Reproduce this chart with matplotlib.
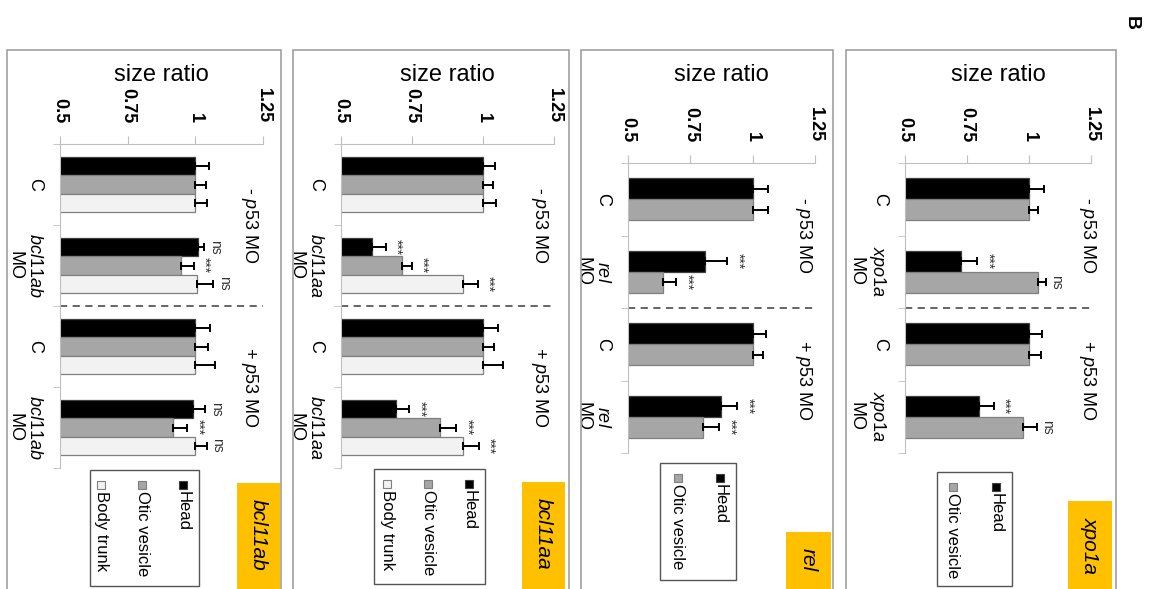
import matplotlib
matplotlib.use("Agg")
import matplotlib.pyplot as plt
from matplotlib.patches import Rectangle
import numpy as np

plt.rcParams['font.family'] = ['Liberation Sans', 'DejaVu Sans']
plt.rcParams['mathtext.fontset'] = 'custom'
plt.rcParams['mathtext.rm'] = 'Liberation Sans'
plt.rcParams['mathtext.it'] = 'Liberation Sans:italic'

# ---- data ----
series_names = ["Head", "Otic vesicle", "Body trunk"]
groups = ["- $\\it{p53}$ MO", "+ $\\it{p53}$ MO"]
ticks = [0.5, 0.75, 1, 1.25]
tick_labels = ["0.5", "0.75", "1", "1.25"]

xpo1a_head = [1.0, 0.724, 1.0, 0.80]
xpo1a_head_err = [0.06, 0.067, 0.051, 0.059]
xpo1a_otic = [1.0, 1.038, 1.0, 0.977]
xpo1a_otic_err = [0.038, 0.03, 0.047, 0.054]
xpo1a_sig = [["", "***", "", "***"], ["", "ns", "", "ns"]]

rel_head = [1.0, 0.808, 1.0, 0.871]
rel_head_err = [0.063, 0.09, 0.054, 0.068]
rel_otic = [1.0, 0.64, 1.0, 0.80]
rel_otic_err = [0.063, 0.054, 0.043, 0.066]
rel_sig = [["", "***", "", "***"], ["", "***", "", "***"]]

bcl11aa_head = [1.0, 0.608, 1.0, 0.695]
bcl11aa_head_err = [0.043, 0.05, 0.052, 0.045]
bcl11aa_otic = [1.0, 0.716, 1.0, 0.85]
bcl11aa_otic_err = [0.035, 0.034, 0.039, 0.056]
bcl11aa_body = [1.0, 0.928, 1.0, 0.931]
bcl11aa_body_err = [0.045, 0.053, 0.069, 0.055]
bcl11aa_sig = [["", "***", "", "***"], ["", "***", "", "***"], ["", "***", "", "***"]]

bcl11ab_head = [1.0, 1.01, 1.0, 0.991]
bcl11ab_head_err = [0.049, 0.023, 0.053, 0.046]
bcl11ab_otic = [1.0, 0.947, 1.0, 0.917]
bcl11ab_otic_err = [0.039, 0.047, 0.047, 0.054]
bcl11ab_body = [1.0, 1.007, 1.0, 1.0]
bcl11ab_body_err = [0.043, 0.06, 0.074, 0.043]
bcl11ab_sig = [["", "ns", "", "ns"], ["", "***", "", "***"], ["", "ns", "", "ns"]]

colors = ["#000000", "#a6a6a6", "#f2f2f2"]
edges = ["#404040", "#7f7f7f", "#7f7f7f"]

W, H = 1149, 589
fig = plt.figure(figsize=(W / 100, H / 100), dpi=100)


def fx(x):
    return x / W


def fy(y):
    return 1 - y / H


def fig_rect(x0, y0, x1, y1, **kw):
    fig.add_artist(Rectangle((fx(x0), fy(y1)), (x1 - x0) / W, (y1 - y0) / H,
                             transform=fig.transFigure, **kw))


def panel(gene, vals, errs, sig, axbox, frame, group_x, legbox, leg_cols, ybox):
    l, r, t, b = axbox
    # panel frame
    fig_rect(frame[0], 50, frame[1], 640, fill=False, ec="#a0a0a0", lw=1.2)

    ax = fig.add_axes([fx(l), fy(b), (r - l) / W, (b - t) / H])
    n = len(vals)
    cats = ["C", "$\\it{" + gene + "}$\nMO", "C", "$\\it{" + gene + "}$\nMO"]
    pos = np.arange(len(cats))
    h = 0.29 if n == 2 else 0.226
    for i in range(n):
        y = pos + (i - (n - 1) / 2) * h
        ax.barh(y, vals[i], height=h, color=colors[i], edgecolor=edges[i], lw=0.9, zorder=2)
        ax.errorbar(vals[i], y, xerr=[np.zeros(len(y)), errs[i]], fmt="none",
                    ecolor="black", elinewidth=1.4, capsize=3, capthick=1.4, zorder=3)
        for k in range(len(y)):
            if sig[i][k]:
                ax.annotate(sig[i][k], xy=(vals[i][k] + errs[i][k], y[k]), xytext=(2.5, 0),
                            textcoords="offset points", rotation=270, ha="left", va="center",
                            fontsize=10, color="#333333")

    ax.set_xlim(0.5, 1.25)
    ax.set_ylim(len(cats) - 0.5, -0.5)
    ax.axhline(1.5, color="#595959", ls=(0, (4, 3)), lw=1.3)

    ax.xaxis.tick_top()
    ax.set_xticks(ticks, labels=tick_labels)
    ax.tick_params(axis="x", length=6, color="#bfbfbf", labelrotation=270, labelsize=13, pad=9)
    for lab in ax.get_xticklabels():
        lab.set_fontweight("bold")
    ax.set_yticks(pos, labels=cats)
    ax.set_yticks(np.arange(-0.5, len(cats), 1), minor=True)
    ax.tick_params(axis="y", which="major", length=0, labelrotation=270, labelsize=13, pad=12)
    ax.tick_params(axis="y", which="minor", length=5, color="#bfbfbf")
    for lab in ax.get_yticklabels():
        lab.set_va("center")
        lab.set_multialignment("center")
    for s in ["right", "bottom"]:
        ax.spines[s].set_visible(False)
    for s in ["top", "left"]:
        ax.spines[s].set_color("#bfbfbf")
    ax.set_facecolor("none")

    for g, gy in zip(groups, [0.5, 2.5]):
        ax.text(group_x, gy, g, rotation=270, ha="center", va="center", fontsize=13,
                transform=ax.get_yaxis_transform())

    fig.text(fx((l + r) / 2), fy(75), "size ratio", ha="center", va="center", fontsize=17)

    # legend
    x0, y0, x1, y1 = legbox
    fig_rect(x0, y0, x1, y1, fill=False, ec="#555555", lw=1)
    for i in range(n):
        cx = leg_cols[i]
        fig_rect(cx - 4, y0 + 11, cx + 4, y0 + 19, fc=colors[i], ec=edges[i], lw=0.8)
        fig.text(fx(cx), fy(y0 + 21), series_names[i], rotation=270, ha="center", va="top",
                 fontsize=12)

    # gene tag
    gx0, gx1, gy0 = ybox
    fig_rect(gx0, gy0, gx1, 640, fc="#ffc000", ec="none")
    fig.text(fx((gx0 + gx1) / 2), fy(gy0 + 16), gene, rotation=270, ha="center", va="top",
             fontsize=15, style="italic")
    return ax


panel("xpo1a", [xpo1a_head, xpo1a_otic], [xpo1a_head_err, xpo1a_otic_err], xpo1a_sig,
      (905, 1091, 163, 453), (846, 1116), 0.98, (937, 472, 1012, 586), [996, 953],
      (1068, 1112, 501))
panel("rel", [rel_head, rel_otic], [rel_head_err, rel_otic_err], rel_sig,
      (628, 815, 163, 453), (581, 833), 0.94, (660, 463, 736, 580), [720, 678],
      (786, 831, 532))
panel("bcl11aa", [bcl11aa_head, bcl11aa_otic, bcl11aa_body],
      [bcl11aa_head_err, bcl11aa_otic_err, bcl11aa_body_err], bcl11aa_sig,
      (341, 554, 144, 468), (293, 569), 0.934, (374, 469, 485, 584), [469, 428, 387],
      (522, 565, 482))
panel("bcl11ab", [bcl11ab_head, bcl11ab_otic, bcl11ab_body],
      [bcl11ab_head_err, bcl11ab_otic_err, bcl11ab_body_err], bcl11ab_sig,
      (60, 263, 144, 468), (7, 281), 0.932, (90, 470, 199, 586), [183, 142, 101],
      (237, 280, 483))

fig.text(fx(1131), fy(23), "B", rotation=270, ha="center", va="center", fontsize=14,
         fontweight="bold")

fig.savefig("out.png", dpi=100)
